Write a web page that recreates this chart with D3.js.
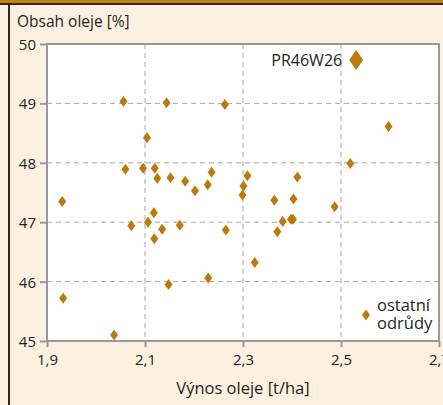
<!DOCTYPE html>
<html>
<head>
<meta charset="utf-8">
<script src="https://cdn.jsdelivr.net/npm/d3@7"></script>
<style>
  html, body { margin: 0; padding: 0; background: #fdf0e0; overflow: hidden; }
  svg { display: block; font-family: 'Open Sans', 'Noto Sans', sans-serif; }
</style>
</head>
<body>
<script>
// yield of oil [t/ha] and oil content [%] of other varieties
const vynos = [
  1.931, 1.933, 2.037, 2.056, 2.060, 2.072, 2.096, 2.104, 2.106, 2.118,
  2.119, 2.120, 2.125, 2.135, 2.144, 2.148, 2.152, 2.171, 2.182, 2.202,
  2.228, 2.229, 2.236, 2.263, 2.265, 2.299, 2.301, 2.309, 2.324, 2.364,
  2.370, 2.381, 2.398, 2.402, 2.403, 2.411, 2.487, 2.519, 2.597
];
const obsah = [
  47.35, 45.72, 45.10, 49.03, 47.89, 46.94, 47.91, 48.42, 47.00, 47.16,
  46.72, 47.91, 47.74, 46.88, 49.01, 45.95, 47.75, 46.95, 47.69, 47.53,
  47.63, 46.06, 47.84, 48.98, 46.87, 47.46, 47.61, 47.78, 46.32, 47.37,
  46.84, 47.01, 47.05, 47.05, 47.39, 47.76, 47.26, 47.99, 48.61
];
const highlight = { name: 'PR46W26', x: 2.531, y: 49.73 };

const xTicks = [1.9, 2.1, 2.3, 2.5, 2.7];
const yTicks = [45, 46, 47, 48, 49, 50];
const legendLines = ['ostatní', 'odrůdy'];

const w = 443;
const h = 405;
const color = '#bb7a0b';

const svg = d3.select('body').append('svg').attr('width', w).attr('height', h);

// frame decoration
svg.append('rect').attr('x', 0).attr('y', 0).attr('width', w).attr('height', h).attr('fill', '#fdf0e0');
svg.append('rect').attr('x', 0).attr('y', 0).attr('width', w).attr('height', 3).attr('fill', '#c0800f');
svg.append('rect').attr('x', 0).attr('y', 3).attr('width', w).attr('height', 2).attr('fill', '#2e2620');
svg.append('rect').attr('x', 8).attr('y', 3).attr('width', 2).attr('height', h).attr('fill', '#2e2620');

const x = d3.scaleLinear().domain([1.9, 2.7]).range([47, 439]);
const y = d3.scaleLinear().domain([45, 50]).range([341, 44]);

svg.append('rect')
  .attr('x', x(1.9)).attr('y', y(50))
  .attr('width', x(2.7) - x(1.9)).attr('height', y(45) - y(50))
  .attr('fill', '#fff');

// grid
svg.selectAll('.vgrid').data(xTicks.slice(1, -1)).enter().append('line')
  .attr('x1', (d) => x(d)).attr('x2', (d) => x(d))
  .attr('y1', y(50)).attr('y2', y(45))
  .attr('stroke', '#a8a8a8').attr('stroke-dasharray', '5,4');
svg.selectAll('.hgrid').data(yTicks.slice(1, -1)).enter().append('line')
  .attr('y1', (d) => y(d)).attr('y2', (d) => y(d))
  .attr('x1', x(1.9)).attr('x2', x(2.7))
  .attr('stroke', '#a8a8a8').attr('stroke-dasharray', '5,4');

// axes
const fmt = (d) => d3.format('.1f')(d).replace('.', ',');
const xAxis = d3.axisBottom(x).tickValues(xTicks).tickFormat(fmt).tickSize(6).tickPadding(7);
const yAxis = d3.axisLeft(y).tickValues(yTicks).tickFormat(d3.format('d')).tickSize(7).tickPadding(4);

const gx = svg.append('g').attr('transform', 'translate(0,' + y(45) + ')').call(xAxis);
const gy = svg.append('g').attr('transform', 'translate(' + x(1.9) + ',0)').call(yAxis);
[gx, gy].forEach((g) => {
  g.select('.domain').remove();
  g.selectAll('line').attr('stroke', '#999').attr('stroke-width', 2);
  g.selectAll('text').attr('fill', '#231f20').style('font-size', '15px').style('font-family', "'Open Sans', sans-serif");
});
gy.selectAll('text').attr('dy', '0.36em');

svg.append('rect')
  .attr('x', x(1.9)).attr('y', y(50))
  .attr('width', x(2.7) - x(1.9)).attr('height', y(45) - y(50))
  .attr('fill', 'none').attr('stroke', '#999').attr('stroke-width', 2);

// titles
svg.append('text').attr('x', 17).attr('y', 27).text('Obsah oleje [%]')
  .attr('fill', '#231f20').style('font-size', '15.5px');
svg.append('text').attr('x', 243).attr('y', 394).attr('text-anchor', 'middle')
  .text('Výnos oleje [t/ha]').attr('fill', '#231f20').style('font-size', '16.5px');

// points
const diamond = (cx, cy, hw, hh) =>
  'M' + cx + ',' + (cy - hh) + 'L' + (cx + hw) + ',' + cy + 'L' + cx + ',' + (cy + hh) + 'L' + (cx - hw) + ',' + cy + 'Z';

const pts = vynos.map((v, i) => [v, obsah[i]]);
svg.selectAll('.pt').data(pts).enter().append('path')
  .attr('d', (d) => diamond(x(d[0]), y(d[1]), 4, 5.5))
  .attr('fill', color);

svg.append('path')
  .attr('d', diamond(x(highlight.x), y(highlight.y), 7, 10))
  .attr('fill', color);
svg.append('text').attr('x', x(highlight.x) - 14).attr('y', y(highlight.y) + 6)
  .attr('text-anchor', 'end').text(highlight.name)
  .attr('fill', '#231f20').style('font-size', '16px');

// legend
svg.append('path').attr('d', diamond(366, 315, 4, 5.5)).attr('fill', color);
svg.selectAll('.lg').data(legendLines).enter().append('text')
  .attr('x', 377).attr('y', (d, i) => 311 + i * 17.5)
  .text((d) => d)
  .attr('fill', '#231f20').style('font-size', '16.5px');
</script>
</body>
</html>
